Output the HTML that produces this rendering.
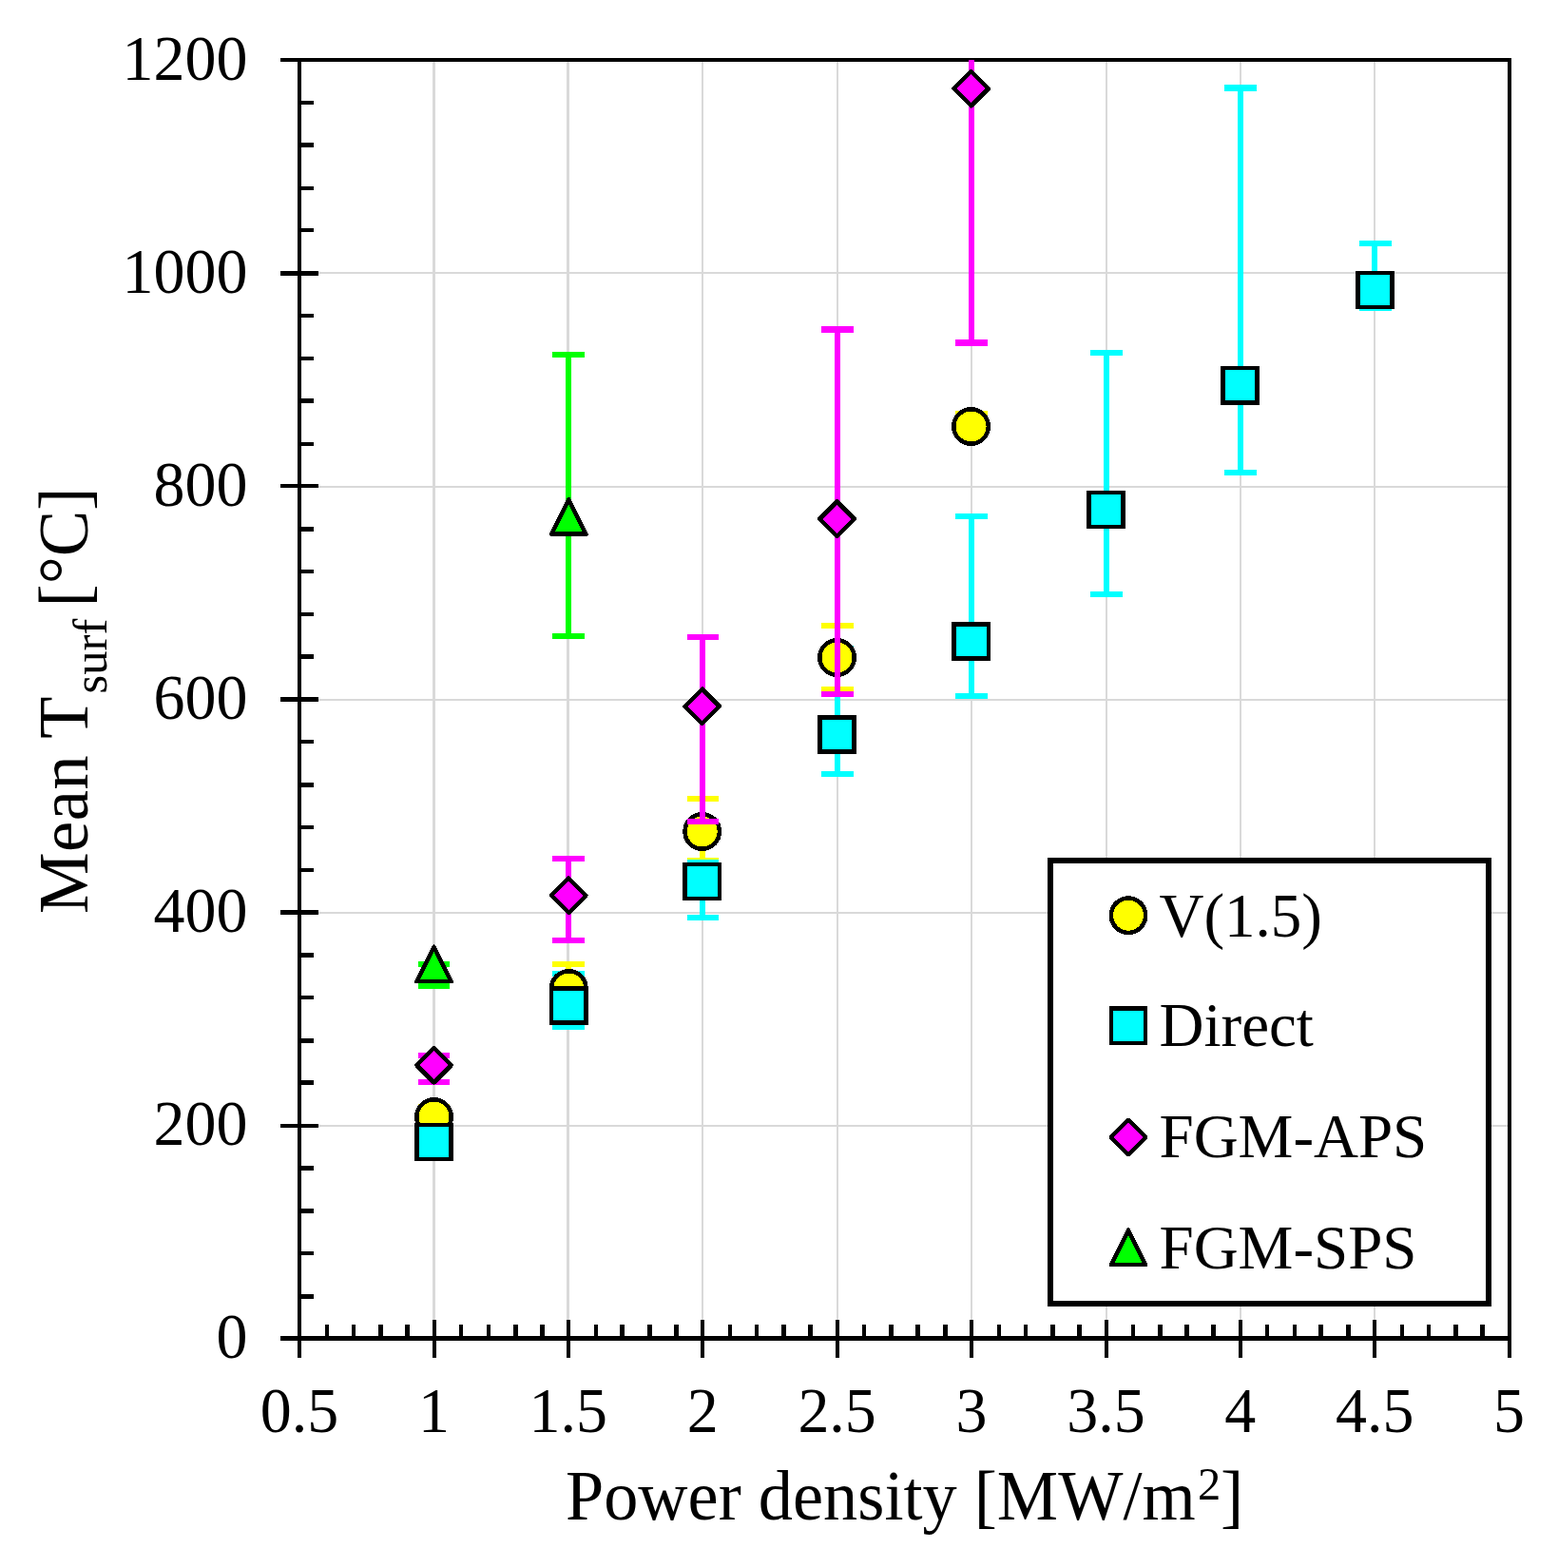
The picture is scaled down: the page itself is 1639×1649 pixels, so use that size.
<!DOCTYPE html>
<html lang="en">
<head>
<meta charset="utf-8">
<title>Mean surface temperature vs power density</title>
<style>
html, body { margin: 0; padding: 0; background: #ffffff; }
body { width: 1639px; height: 1649px; overflow: hidden; font-family: "Liberation Serif", "Times New Roman", Times, serif; }
svg { display: block; }
text { white-space: pre; }
</style>
</head>
<body>
<svg width="1639" height="1649" viewBox="0 0 1639 1649" role="img" aria-label="Mean surface temperature versus power density">
<rect x="0" y="0" width="1639" height="1649" fill="#ffffff"/>
<g id="grid" shape-rendering="crispEdges" fill="#d9d9d9">
<rect x="455" y="65" width="3" height="1340"/>
<rect x="596" y="65" width="3" height="1340"/>
<rect x="738" y="65" width="2" height="1340"/>
<rect x="880" y="65" width="2" height="1340"/>
<rect x="1021" y="65" width="2" height="1340"/>
<rect x="1163" y="65" width="2" height="1340"/>
<rect x="1304" y="65" width="2" height="1340"/>
<rect x="1445" y="65" width="2" height="1340"/>
<rect x="317" y="1183" width="1269" height="2"/>
<rect x="317" y="959" width="1269" height="2"/>
<rect x="317" y="735" width="1269" height="2"/>
<rect x="317" y="511" width="1269" height="2"/>
<rect x="317" y="286" width="1269" height="2"/>
</g>
<g id="axes" shape-rendering="crispEdges" fill="#000000">
<rect x="295" y="61" width="1295" height="4"/>
<rect x="313" y="61" width="4" height="1367"/>
<rect x="1586" y="61" width="4" height="1367"/>
<rect x="295" y="1405" width="1295" height="5"/>
<rect x="295" y="1182" width="40" height="4"/>
<rect x="295" y="957" width="40" height="5"/>
<rect x="295" y="733" width="40" height="5"/>
<rect x="295" y="509" width="40" height="4"/>
<rect x="295" y="285" width="40" height="5"/>
<rect x="315" y="1361" width="15" height="5"/>
<rect x="315" y="1316" width="15" height="4"/>
<rect x="315" y="1271" width="15" height="5"/>
<rect x="315" y="1226" width="15" height="5"/>
<rect x="315" y="1136" width="15" height="5"/>
<rect x="315" y="1092" width="15" height="5"/>
<rect x="315" y="1047" width="15" height="4"/>
<rect x="315" y="1002" width="15" height="5"/>
<rect x="315" y="913" width="15" height="4"/>
<rect x="315" y="868" width="15" height="4"/>
<rect x="315" y="823" width="15" height="5"/>
<rect x="315" y="778" width="15" height="4"/>
<rect x="315" y="688" width="15" height="5"/>
<rect x="315" y="644" width="15" height="4"/>
<rect x="315" y="599" width="15" height="4"/>
<rect x="315" y="554" width="15" height="5"/>
<rect x="315" y="465" width="15" height="4"/>
<rect x="315" y="419" width="15" height="5"/>
<rect x="315" y="375" width="15" height="4"/>
<rect x="315" y="330" width="15" height="4"/>
<rect x="315" y="240" width="15" height="4"/>
<rect x="315" y="196" width="15" height="4"/>
<rect x="315" y="150" width="15" height="5"/>
<rect x="315" y="106" width="15" height="4"/>
<rect x="455" y="1388" width="4" height="40"/>
<rect x="596" y="1388" width="4" height="40"/>
<rect x="737" y="1388" width="4" height="40"/>
<rect x="879" y="1388" width="4" height="40"/>
<rect x="1020" y="1388" width="4" height="40"/>
<rect x="1162" y="1388" width="4" height="40"/>
<rect x="1303" y="1388" width="4" height="40"/>
<rect x="1444" y="1388" width="4" height="40"/>
<rect x="342" y="1393" width="4" height="14"/>
<rect x="370" y="1393" width="4" height="14"/>
<rect x="398" y="1393" width="5" height="14"/>
<rect x="426" y="1393" width="5" height="14"/>
<rect x="483" y="1393" width="4" height="14"/>
<rect x="512" y="1393" width="4" height="14"/>
<rect x="540" y="1393" width="5" height="14"/>
<rect x="568" y="1393" width="5" height="14"/>
<rect x="625" y="1393" width="4" height="14"/>
<rect x="652" y="1393" width="5" height="14"/>
<rect x="681" y="1393" width="5" height="14"/>
<rect x="709" y="1393" width="5" height="14"/>
<rect x="766" y="1393" width="4" height="14"/>
<rect x="794" y="1393" width="4" height="14"/>
<rect x="822" y="1393" width="5" height="14"/>
<rect x="850" y="1393" width="5" height="14"/>
<rect x="907" y="1393" width="4" height="14"/>
<rect x="935" y="1393" width="5" height="14"/>
<rect x="963" y="1393" width="5" height="14"/>
<rect x="992" y="1393" width="5" height="14"/>
<rect x="1049" y="1393" width="4" height="14"/>
<rect x="1077" y="1393" width="4" height="14"/>
<rect x="1105" y="1393" width="5" height="14"/>
<rect x="1133" y="1393" width="5" height="14"/>
<rect x="1190" y="1393" width="4" height="14"/>
<rect x="1218" y="1393" width="5" height="14"/>
<rect x="1246" y="1393" width="5" height="14"/>
<rect x="1274" y="1393" width="5" height="14"/>
<rect x="1331" y="1393" width="4" height="14"/>
<rect x="1360" y="1393" width="4" height="14"/>
<rect x="1387" y="1393" width="5" height="14"/>
<rect x="1416" y="1393" width="5" height="14"/>
<rect x="1473" y="1393" width="4" height="14"/>
<rect x="1501" y="1393" width="4" height="14"/>
<rect x="1529" y="1393" width="5" height="14"/>
<rect x="1557" y="1393" width="5" height="14"/>
</g>
<g id="eb-v15" shape-rendering="crispEdges" fill="#ffff00">
<rect x="454" y="1161" width="6" height="27"/>
<rect x="440" y="1161" width="33" height="6"/>
<rect x="440" y="1182" width="33" height="6"/>
<rect x="595" y="1011" width="6" height="57"/>
<rect x="581" y="1011" width="34" height="6"/>
<rect x="581" y="1062" width="34" height="6"/>
<rect x="736" y="837" width="6" height="71"/>
<rect x="723" y="837" width="33" height="6"/>
<rect x="723" y="902" width="33" height="6"/>
<rect x="878" y="655" width="6" height="73"/>
<rect x="864" y="655" width="34" height="6"/>
<rect x="864" y="722" width="34" height="6"/>
<rect x="1019" y="432" width="6" height="23"/>
<rect x="1005" y="432" width="34" height="6"/>
<rect x="1005" y="449" width="34" height="6"/>
</g>
<g id="eb-direct" shape-rendering="crispEdges" fill="#00ffff">
<rect x="454" y="1190" width="6" height="22"/>
<rect x="440" y="1190" width="33" height="6"/>
<rect x="440" y="1206" width="33" height="6"/>
<rect x="595" y="1021" width="6" height="62"/>
<rect x="581" y="1021" width="34" height="6"/>
<rect x="581" y="1077" width="34" height="6"/>
<rect x="736" y="904" width="6" height="64"/>
<rect x="723" y="904" width="33" height="6"/>
<rect x="723" y="962" width="33" height="6"/>
<rect x="878" y="679" width="6" height="138"/>
<rect x="864" y="679" width="34" height="6"/>
<rect x="864" y="811" width="34" height="6"/>
<rect x="1019" y="540" width="6" height="195"/>
<rect x="1005" y="540" width="34" height="6"/>
<rect x="1005" y="729" width="34" height="6"/>
<rect x="1161" y="368" width="6" height="260"/>
<rect x="1147" y="368" width="34" height="6"/>
<rect x="1147" y="622" width="34" height="6"/>
<rect x="1302" y="89" width="6" height="411"/>
<rect x="1288" y="89" width="34" height="7"/>
<rect x="1288" y="494" width="34" height="6"/>
<rect x="1443" y="253" width="6" height="74"/>
<rect x="1430" y="253" width="34" height="6"/>
<rect x="1430" y="321" width="34" height="6"/>
</g>
<g fill="#ffff00" stroke="#000000" stroke-width="4.5" stroke-linejoin="round" shape-rendering="crispEdges">
<circle cx="456.5" cy="1174.5" r="18.2"/>
<circle cx="598.3" cy="1039.5" r="18.2"/>
<circle cx="738.7" cy="874.5" r="18.2"/>
<circle cx="880.5" cy="691.5" r="18.2"/>
<circle cx="1021.6" cy="448.5" r="18.2"/>
</g>
<g fill="#00ffff" stroke="#000000" stroke-width="4.5" stroke-linejoin="miter" shape-rendering="crispEdges">
<rect x="438.3" y="1182.8" width="36.4" height="36.4"/>
<rect x="580.1" y="1039.3" width="36.4" height="36.4"/>
<rect x="720.5" y="908.8" width="36.4" height="36.4"/>
<rect x="862.3" y="754.3" width="36.4" height="36.4"/>
<rect x="1003.4" y="656.3" width="36.4" height="36.4"/>
<rect x="1145.3" y="517.8" width="36.4" height="36.4"/>
<rect x="1286.3" y="387.1" width="36.4" height="36.4"/>
<rect x="1428.3" y="286.8" width="36.4" height="36.4"/>
</g>
<g id="eb-aps" shape-rendering="crispEdges" fill="#ff00ff">
<rect x="454" y="1107" width="6" height="34"/>
<rect x="440" y="1107" width="33" height="6"/>
<rect x="440" y="1135" width="33" height="6"/>
<rect x="595" y="900" width="6" height="92"/>
<rect x="581" y="900" width="34" height="6"/>
<rect x="581" y="986" width="34" height="6"/>
<rect x="736" y="667" width="6" height="200"/>
<rect x="723" y="667" width="33" height="6"/>
<rect x="723" y="861" width="33" height="6"/>
<rect x="878" y="343" width="6" height="390"/>
<rect x="864" y="343" width="34" height="7"/>
<rect x="864" y="727" width="34" height="6"/>
<rect x="1019" y="63" width="6" height="301"/>
<rect x="1005" y="357" width="34" height="7"/>
</g>
<g fill="#ff00ff" stroke="#000000" stroke-width="4.5" stroke-linejoin="round" shape-rendering="crispEdges">
<path d="M456.5 1102L474.7 1120.2L456.5 1138.4L438.3 1120.2Z"/>
<path d="M598.3 923.5L616.5 941.7L598.3 959.9L580.1 941.7Z"/>
<path d="M738.7 724.6L756.9 742.8L738.7 761L720.5 742.8Z"/>
<path d="M880.5 527.4L898.7 545.6L880.5 563.8L862.3 545.6Z"/>
<path d="M1021.6 75L1039.8 93.2L1021.6 111.4L1003.4 93.2Z"/>
</g>
<g id="eb-sps" shape-rendering="crispEdges" fill="#00ff00">
<rect x="454" y="1011" width="6" height="29"/>
<rect x="440" y="1011" width="33" height="6"/>
<rect x="440" y="1034" width="33" height="6"/>
<rect x="595" y="370" width="6" height="302"/>
<rect x="581" y="370" width="34" height="6"/>
<rect x="581" y="666" width="34" height="6"/>
</g>
<g fill="#00ff00" stroke="#000000" stroke-width="4.5" stroke-linejoin="round" shape-rendering="crispEdges">
<path d="M456.5 995.8L474.7 1032.2L438.3 1032.2Z"/>
<path d="M598.3 525.3L616.5 561.7L580.1 561.7Z"/>
</g>
<g id="ticklabels" font-family="'Liberation Serif', 'Times New Roman', Times, serif" font-size="67.6" fill="#000000">
<text transform="translate(260.4 1428.2) scale(0.976 1)" text-anchor="end">0</text>
<text transform="translate(260.4 1204.1) scale(0.976 1)" text-anchor="end">200</text>
<text transform="translate(260.4 980.1) scale(0.976 1)" text-anchor="end">400</text>
<text transform="translate(260.4 756) scale(0.976 1)" text-anchor="end">600</text>
<text transform="translate(260.4 531.9) scale(0.976 1)" text-anchor="end">800</text>
<text transform="translate(260.4 307.8) scale(0.976 1)" text-anchor="end">1000</text>
<text transform="translate(260.4 83.8) scale(0.976 1)" text-anchor="end">1200</text>
<text transform="translate(315 1506.1) scale(0.976 1)" text-anchor="middle">0.5</text>
<text transform="translate(456.4 1506.1) scale(0.976 1)" text-anchor="middle">1</text>
<text transform="translate(597.8 1506.1) scale(0.976 1)" text-anchor="middle">1.5</text>
<text transform="translate(739.2 1506.1) scale(0.976 1)" text-anchor="middle">2</text>
<text transform="translate(880.6 1506.1) scale(0.976 1)" text-anchor="middle">2.5</text>
<text transform="translate(1022 1506.1) scale(0.976 1)" text-anchor="middle">3</text>
<text transform="translate(1163.4 1506.1) scale(0.976 1)" text-anchor="middle">3.5</text>
<text transform="translate(1304.8 1506.1) scale(0.976 1)" text-anchor="middle">4</text>
<text transform="translate(1446.2 1506.1) scale(0.976 1)" text-anchor="middle">4.5</text>
<text transform="translate(1587.6 1506.1) scale(0.976 1)" text-anchor="middle">5</text>
</g>
<g id="titles" font-family="'Liberation Serif', 'Times New Roman', Times, serif" font-size="74.4" fill="#000000">
<text transform="translate(595 1598) scale(0.976 1)" font-size="74.1">Power density [MW/m</text>
<text transform="translate(1260 1577) scale(1 1)" font-size="48.5">2</text>
<text transform="translate(1284 1598) scale(0.976 1)">]</text>
<g transform="translate(91.6 959.4) rotate(-90)">
<text transform="translate(-1.6 0) scale(0.976 1)" letter-spacing="0.45">Mean T</text>
<text transform="translate(230 20.1) scale(1 1)" font-size="50.6">surf</text>
<text transform="translate(321 0) scale(0.976 1)">[°C]</text>
</g>
</g>
<g id="legendbox" shape-rendering="crispEdges">
<rect x="1102" y="902" width="467" height="472" fill="#000000"/>
<rect x="1108" y="908" width="455" height="460" fill="#ffffff"/>
</g>
<g fill="#ffff00" stroke="#000000" stroke-width="4.5" stroke-linejoin="round" shape-rendering="crispEdges">
<circle cx="1187" cy="962.7" r="18.2"/>
</g>
<g fill="#00ffff" stroke="#000000" stroke-width="4.5" stroke-linejoin="miter" shape-rendering="crispEdges">
<rect x="1168.8" y="1060.4" width="36.4" height="36.4"/>
</g>
<g fill="#ff00ff" stroke="#000000" stroke-width="4.5" stroke-linejoin="round" shape-rendering="crispEdges">
<path d="M1187 1177.8L1205.2 1196L1187 1214.2L1168.8 1196Z"/>
</g>
<g fill="#00ff00" stroke="#000000" stroke-width="4.5" stroke-linejoin="round" shape-rendering="crispEdges">
<path d="M1187 1293.6L1205.2 1330L1168.8 1330Z"/>
</g>
<g id="legendtext" font-family="'Liberation Serif', 'Times New Roman', Times, serif" font-size="66.2" fill="#000000">
<text transform="translate(1219.5 985) scale(0.982 1)">V(1.5)</text>
<text transform="translate(1219.5 1100) scale(0.982 1)">Direct</text>
<text transform="translate(1219.5 1217) scale(0.982 1)">FGM-APS</text>
<text transform="translate(1219.5 1334) scale(0.982 1)">FGM-SPS</text>
</g>
</svg>
</body>
</html>
